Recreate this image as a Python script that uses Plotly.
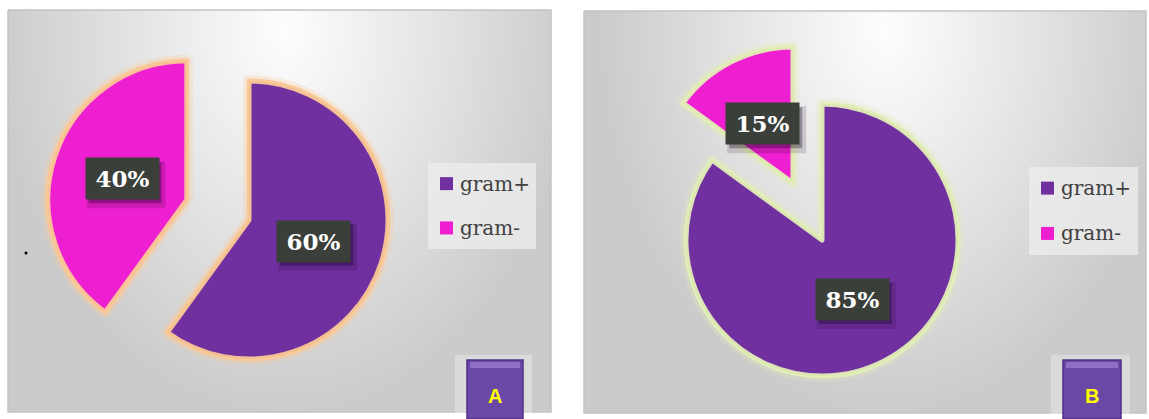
import math
import numpy as np
import plotly.graph_objects as go

W, H = 1149, 419

# ---- data -------------------------------------------------------------
labels = ["gram+", "gram-"]
values_a = [60, 40]
values_b = [85, 15]
panel_names = ["A", "B"]
slice_colors = ["#7030A0", "#EE1FD0"]

PULL = [0.0, 0.47]      # the gram- slice is exploded out of each pie
LABEL_R = 0.49          # label distance from the slice tip, as a fraction of r
CLEAR = "rgba(0,0,0,0)"

# size of the dark label boxes (text area + padding)
BOX_W, BOX_H, BOX_PAD = 57, 25, 8

# ---- layout of the two panels (pixel coordinates, y downwards) --------
panels = [
    dict(values=values_a, name=panel_names[0], box=(8, 10, 551, 412),
         center=(249, 220), r=139, glow=(250, 200, 150),
         light=(285, 30, 290, 385), legend=(428, 163, 536, 249),
         button=(467, 523)),
    dict(values=values_b, name=panel_names[1], box=(584, 11, 1146, 413),
         center=(822, 240), r=136, glow=(226, 238, 182),
         light=(885, 30, 285, 385), legend=(1029, 167, 1138, 255),
         button=(1063, 1121)),
]

fig = go.Figure()
shapes = []
annotations = []

for p in panels:
    x0, y0, x1, y1 = p["box"]

    # grey panel base
    shapes.append(dict(type="rect", xref="x", yref="y", x0=x0, y0=y0, x1=x1, y1=y1,
                       fillcolor="#cbcbcb", line=dict(width=0), layer="below"))

    # soft white highlight near the top of the panel
    lx, ly, rx, ry = p["light"]
    t = np.linspace(0, 2 * np.pi, 181)
    fig.add_trace(go.Scatter(
        x=lx + rx * np.cos(t), y=ly + ry * np.sin(t), mode="lines",
        line=dict(width=0), fill="toself",
        fillgradient=dict(type="radial", colorscale=[
            [0.0, "rgba(255,255,255,0.97)"],
            [0.45, "rgba(255,255,255,0.55)"],
            [1.0, "rgba(255,255,255,0.0)"]]),
        hoverinfo="skip", showlegend=False))

    # panel frame
    fig.add_trace(go.Scatter(
        x=[x0, x1, x1, x0, x0], y=[y0, y0, y1, y1, y0], mode="lines",
        line=dict(color="#c3c3c3", width=1.5), hoverinfo="skip", showlegend=False))

    # ---- exploded pie: one trace per visible slice ----
    cx, cy = p["center"]
    r = p["r"]
    vals = p["values"]
    tot = float(sum(vals))
    gr, gg, gb = p["glow"]
    for i, v in enumerate(vals):
        start = sum(vals[:i]) / tot * 360.0
        mid = math.radians(start + v / tot * 180.0)
        d = PULL[i] * r
        scx = cx + d * math.sin(mid)
        scy = cy - d * math.cos(mid)
        dom = dict(x=[(scx - r) / W, (scx + r) / W],
                   y=[1 - (scy + r) / H, 1 - (scy - r) / H])
        fills = [slice_colors[j] if j == i else CLEAR for j in range(len(vals))]
        for lw, alpha, fc in [(12, 0.28, [CLEAR] * len(vals)), (5, 0.95, fills)]:
            fig.add_trace(go.Pie(
                labels=labels, values=vals, domain=dom, sort=False,
                direction="clockwise", rotation=0, textinfo="none",
                hoverinfo="skip", showlegend=False,
                marker=dict(colors=fc, line=dict(
                    color=[f"rgba({gr},{gg},{gb},{alpha})" if j == i else CLEAR
                           for j in range(len(vals))],
                    width=[lw if j == i else 0 for j in range(len(vals))]))))

        # percentage label in a dark box with a soft drop shadow
        lx_ = scx + LABEL_R * r * math.sin(mid)
        ly_ = scy - LABEL_R * r * math.cos(mid)
        hw = BOX_W / 2 + BOX_PAD
        hh = BOX_H / 2 + BOX_PAD
        for dx, dy, grow, a in [(4, 6, 3, 0.15), (3, 4, 0, 0.32)]:
            shapes.append(dict(type="rect", xref="x", yref="y",
                               x0=lx_ - hw + dx - grow, x1=lx_ + hw + dx + grow,
                               y0=ly_ - hh + dy - grow, y1=ly_ + hh + dy + grow,
                               fillcolor=f"rgba(20,0,30,{a})", line=dict(width=0)))
        annotations.append(dict(
            x=lx_, y=ly_, xref="x", yref="y", text=f"{v}%", showarrow=False,
            xanchor="center", yanchor="middle", width=BOX_W, height=BOX_H,
            font=dict(family="DejaVu Serif", size=23, color="white", weight="bold"),
            bgcolor="#3A3F3A", borderpad=BOX_PAD))

    # ---- legend ----
    bx0, by0, bx1, by1 = p["legend"]
    shapes.append(dict(type="rect", xref="x", yref="y", x0=bx0, y0=by0, x1=bx1, y1=by1,
                       fillcolor="rgba(238,238,238,0.75)", line=dict(width=0)))
    bh = by1 - by0
    for k, (lab, col) in enumerate(zip(labels, slice_colors)):
        yc = by0 + bh * (0.24 if k == 0 else 0.755)
        sx = bx0 + 12
        shapes.append(dict(type="rect", xref="x", yref="y", x0=sx, y0=yc - 6.5,
                           x1=sx + 13, y1=yc + 6.5, fillcolor=col, line=dict(width=0)))
        annotations.append(dict(
            x=sx + 18, y=yc, xref="x", yref="y", text=lab, showarrow=False,
            xanchor="left", yanchor="middle",
            font=dict(family="DejaVu Serif", size=20, color="#404040")))

    # ---- panel letter button ----
    ux0, ux1 = p["button"]
    shapes.append(dict(type="rect", xref="x", yref="y", x0=ux0 - 12, y0=355, x1=ux1 + 9,
                       y1=H, fillcolor="rgba(255,255,255,0.3)", line=dict(width=0)))
    shapes.append(dict(type="rect", xref="x", yref="y", x0=ux0, y0=360, x1=ux1, y1=H,
                       fillcolor="#6A48A6", line=dict(color="#4E3086", width=1.5)))
    shapes.append(dict(type="rect", xref="x", yref="y", x0=ux0 + 3, y0=362, x1=ux1 - 3,
                       y1=368, fillcolor="rgba(170,140,220,0.6)", line=dict(width=0)))
    annotations.append(dict(
        x=(ux0 + ux1) / 2, y=396, xref="x", yref="y", text=p["name"], showarrow=False,
        xanchor="center", yanchor="middle",
        font=dict(family="Liberation Sans", size=20, color="#FFFF00", weight="bold")))

# stray dot at the left edge of panel A
shapes.append(dict(type="circle", xref="x", yref="y", x0=24.5, y0=251.5, x1=27.5, y1=254.5,
                   fillcolor="black", line=dict(width=0)))

fig.update_layout(
    width=W, height=H, margin=dict(l=0, r=0, t=0, b=0),
    paper_bgcolor="white", plot_bgcolor="white", showlegend=False,
    xaxis=dict(range=[0, W], visible=False, fixedrange=True, domain=[0, 1]),
    yaxis=dict(range=[H, 0], visible=False, fixedrange=True, domain=[0, 1]),
    shapes=shapes, annotations=annotations,
)

fig.write_html("out.html")
